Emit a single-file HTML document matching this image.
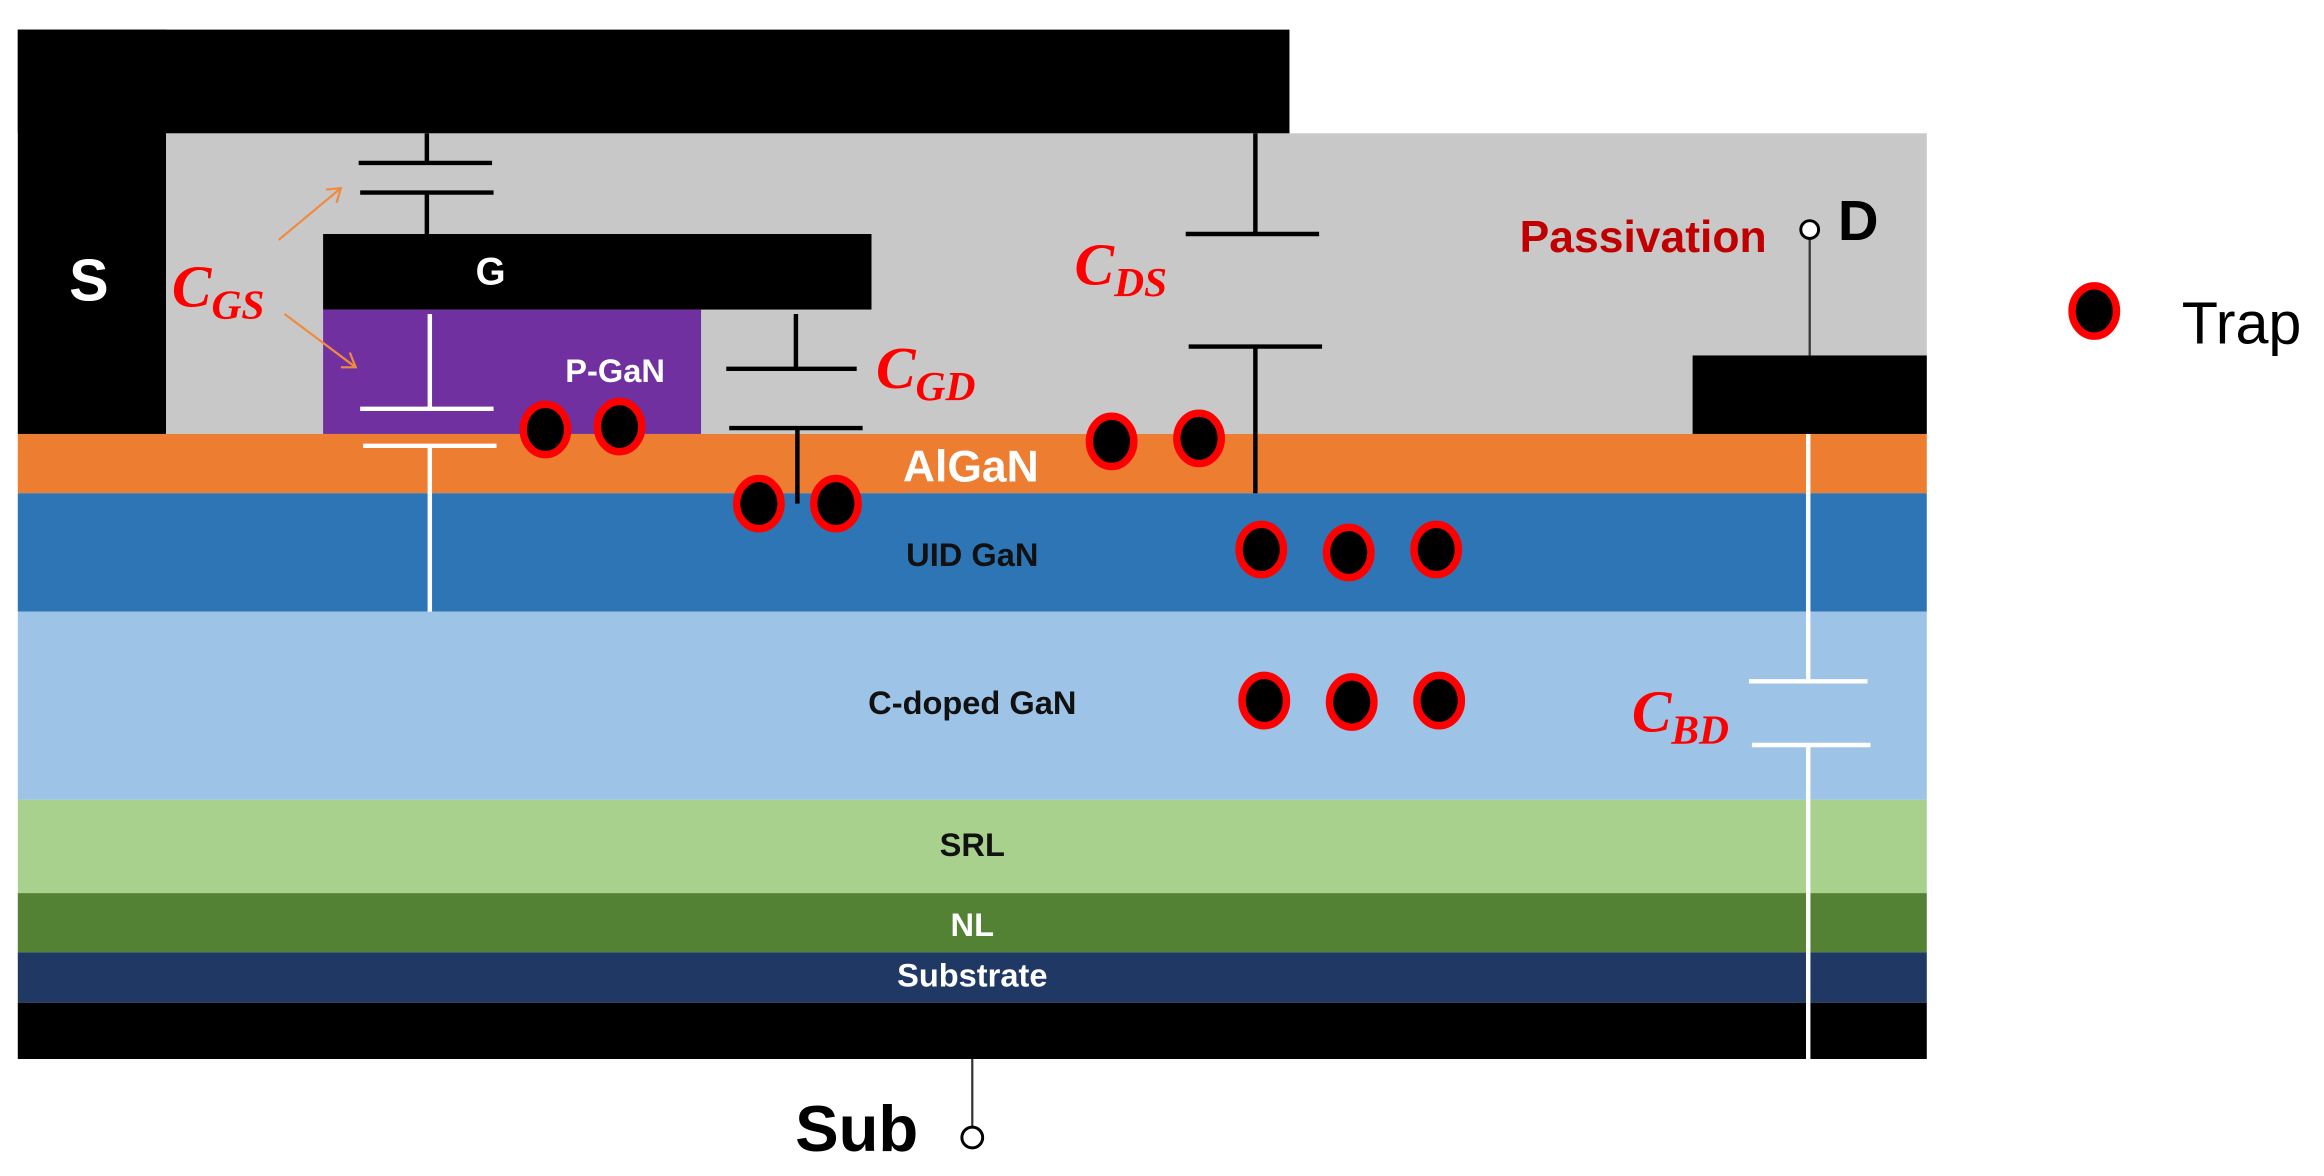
<!DOCTYPE html>
<html><head><meta charset="utf-8"><style>
html,body{margin:0;padding:0;background:#fff;}
svg{display:block;}
.b{font-family:"Liberation Sans",sans-serif;font-weight:bold;}
.c{font-family:"Liberation Serif",serif;font-style:italic;font-weight:bold;fill:#ff0000;}
</style></head><body>
<svg width="2324" height="1176" viewBox="0 0 1568 794" preserveAspectRatio="none" xmlns="http://www.w3.org/2000/svg">
<rect width="1568" height="794" fill="#fff"/>
<rect x="112" y="90" width="1188" height="203" fill="#c8c8c8"/>
<rect x="12" y="20" width="858" height="70" fill="#000"/>
<rect x="12" y="20" width="100" height="273" fill="#000"/>
<rect x="218" y="158" width="370" height="51" fill="#000"/>
<rect x="218" y="209" width="255" height="84" fill="#7030a0"/>
<rect x="1142" y="240" width="158" height="53" fill="#000"/>
<rect x="12" y="293" width="1288" height="40" fill="#ed7d31"/>
<rect x="12" y="333" width="1288" height="80" fill="#2e75b6"/>
<rect x="12" y="413" width="1288" height="127" fill="#9dc3e6"/>
<rect x="12" y="540" width="1288" height="63" fill="#a9d18e"/>
<rect x="12" y="603" width="1288" height="40" fill="#548235"/>
<rect x="12" y="643" width="1288" height="34" fill="#203864"/>
<rect x="12" y="677" width="1288" height="38" fill="#000"/>

<!-- CGS top -->
<g stroke="#000" stroke-width="3">
<line x1="288" y1="90" x2="288" y2="110"/><line x1="242" y1="110" x2="332" y2="110"/>
<line x1="243" y1="130" x2="333" y2="130"/><line x1="288" y1="130" x2="288" y2="158"/>
<line x1="537" y1="212" x2="537" y2="249"/><line x1="490" y1="249" x2="578" y2="249"/>
<line x1="492" y1="289" x2="582" y2="289"/><line x1="538" y1="289" x2="538" y2="340"/>
<line x1="847" y1="90" x2="847" y2="158"/><line x1="800" y1="158" x2="890" y2="158"/>
<line x1="802" y1="234" x2="892" y2="234"/><line x1="847" y1="234" x2="847" y2="333"/>
</g>
<g stroke="#fff" stroke-width="3">
<line x1="290" y1="212" x2="290" y2="276"/><line x1="243" y1="276" x2="333" y2="276"/>
<line x1="245" y1="301" x2="335" y2="301"/><line x1="290" y1="301" x2="290" y2="413"/>
<line x1="1220" y1="293" x2="1220" y2="460"/><line x1="1180" y1="460" x2="1260" y2="460"/>
<line x1="1182" y1="503" x2="1262" y2="503"/><line x1="1220" y1="503" x2="1220" y2="715"/>
</g>
<line x1="1221" y1="161" x2="1221" y2="240" stroke="#333" stroke-width="1.5"/>
<circle cx="1221" cy="155" r="6" fill="#fff" stroke="#000" stroke-width="2"/>
<line x1="656" y1="715" x2="656" y2="761" stroke="#333" stroke-width="1.5"/>
<circle cx="656" cy="768" r="7" fill="#fff" stroke="#000" stroke-width="2"/>

<!-- arrows -->
<g stroke="#f08a40" stroke-width="1.5" fill="none">
<line x1="188" y1="162" x2="230" y2="127"/><polyline points="220,128 230,127 227,137"/>
<line x1="192" y1="212" x2="240" y2="248"/><polyline points="230,248 240,248 236,238"/>
</g>

<!-- traps -->
<g fill="#000" stroke="#ff0000" stroke-width="5">
<ellipse cx="368" cy="290" rx="15" ry="17"/><ellipse cx="418" cy="288" rx="15" ry="17"/>
<ellipse cx="512" cy="340" rx="15" ry="17"/><ellipse cx="564" cy="340" rx="15" ry="17"/>
<ellipse cx="750" cy="298" rx="15" ry="17"/><ellipse cx="809" cy="296" rx="15" ry="17"/>
<ellipse cx="851" cy="371" rx="15" ry="17"/><ellipse cx="910" cy="373" rx="15" ry="17"/><ellipse cx="969" cy="371" rx="15" ry="17"/>
<ellipse cx="853" cy="473" rx="15" ry="17"/><ellipse cx="912" cy="474" rx="15" ry="17"/><ellipse cx="971" cy="473" rx="15" ry="17"/>
<ellipse cx="1413" cy="210" rx="15" ry="17"/>
</g>

<!-- labels -->
<text x="60" y="203" class="b" font-size="40" fill="#fff" text-anchor="middle">S</text>
<text x="331" y="192" class="b" font-size="26" fill="#fff" text-anchor="middle">G</text>
<text x="415" y="258" class="b" font-size="22" fill="#fff" text-anchor="middle">P-GaN</text>
<text x="655" y="325" class="b" font-size="30" fill="#fff" text-anchor="middle">AlGaN</text>
<text x="656" y="382" class="b" font-size="22" fill="#111" text-anchor="middle">UID GaN</text>
<text x="656" y="482" class="b" font-size="22" fill="#111" text-anchor="middle">C-doped GaN</text>
<text x="656" y="578" class="b" font-size="22" fill="#111" text-anchor="middle">SRL</text>
<text x="656" y="632" class="b" font-size="22" fill="#fff" text-anchor="middle">NL</text>
<text x="656" y="666" class="b" font-size="22" fill="#fff" text-anchor="middle">Substrate</text>
<text x="1192" y="170" class="b" font-size="30" fill="#c00000" text-anchor="end">Passivation</text>
<text x="1240" y="162" class="b" font-size="38" fill="#000">D</text>
<text x="578" y="777" class="b" font-size="44" fill="#000" text-anchor="middle">Sub</text>
<text x="1472" y="232" font-family="Liberation Sans, sans-serif" font-size="40" fill="#000">Trap</text>

<text x="116" y="207" class="c" font-size="40">C<tspan font-size="28" dy="8">GS</tspan></text>
<text x="725" y="192" class="c" font-size="40">C<tspan font-size="28" dy="8">DS</tspan></text>
<text x="591" y="262" class="c" font-size="40">C<tspan font-size="28" dy="8">GD</tspan></text>
<text x="1101" y="494" class="c" font-size="40">C<tspan font-size="28" dy="8">BD</tspan></text>
</svg>
</body></html>
